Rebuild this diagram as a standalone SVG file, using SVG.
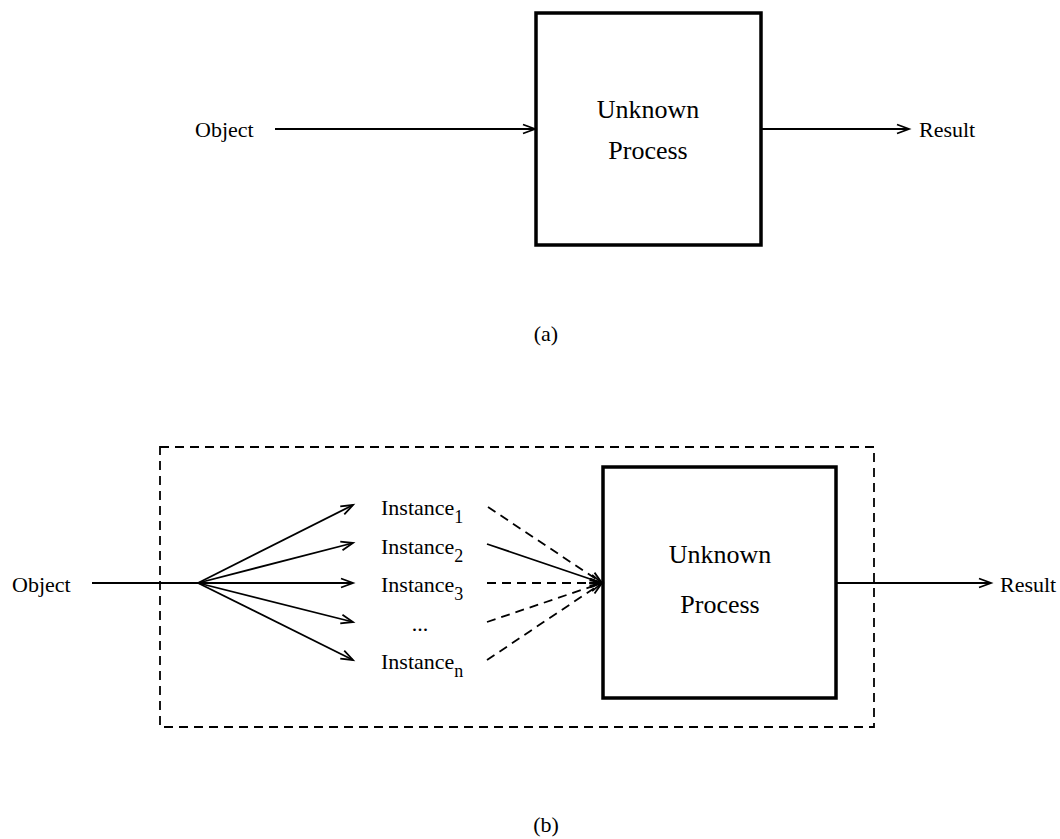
<svg xmlns="http://www.w3.org/2000/svg" width="1060" height="839" viewBox="0 0 1060 839">
<style>
.lbl{font-family:"Liberation Serif","Times New Roman",serif;font-size:22px;fill:#000}
.big{font-family:"Liberation Serif","Times New Roman",serif;font-size:26px;fill:#000}
.sub{font-size:18px}
.box{fill:none;stroke:#000;stroke-width:3.5}
.ln{fill:none;stroke:#000;stroke-width:1.8}
.dash{stroke-dasharray:9 6}
</style>
<defs>
<marker id="arr" markerUnits="userSpaceOnUse" markerWidth="16" markerHeight="12" refX="13" refY="5" orient="auto" overflow="visible">
<path d="M1,0.5 L13,5 L1,9.5" fill="none" stroke="#000" stroke-width="1.8"/>
</marker>
</defs>
<rect width="1060" height="839" fill="#fff"/>
<g id="a-object"><text class="lbl" x="195" y="137">Object</text></g>
<g id="a-process"><rect class="box" x="536" y="13" width="225" height="232"/>
<text class="big" x="648" y="118" text-anchor="middle">Unknown</text>
<text class="big" x="648" y="159" text-anchor="middle">Process</text></g>
<g id="a-result"><text class="lbl" x="919" y="137">Result</text></g>
<g id="a-caption"><text class="lbl" x="546" y="341" text-anchor="middle">(a)</text></g>
<g id="b-frame"><rect class="ln dash" x="160" y="447" width="714" height="280"/></g>
<g id="b-object"><text class="lbl" x="12" y="592">Object</text></g>
<g id="b-instances">
<text class="lbl" x="381" y="515">Instance<tspan class="sub" dy="8">1</tspan></text>
<text class="lbl" x="381" y="554">Instance<tspan class="sub" dy="8">2</tspan></text>
<text class="lbl" x="381" y="592">Instance<tspan class="sub" dy="8">3</tspan></text>
<text class="lbl" x="420" y="631" text-anchor="middle">...</text>
<text class="lbl" x="381" y="669">Instance<tspan class="sub" dy="8">n</tspan></text>
</g>
<g id="b-process"><rect class="box" x="603" y="467" width="233" height="231"/>
<text class="big" x="720" y="563" text-anchor="middle">Unknown</text>
<text class="big" x="720" y="613" text-anchor="middle">Process</text></g>
<g id="b-result"><text class="lbl" x="1000" y="592">Result</text></g>
<g id="b-caption"><text class="lbl" x="546" y="832" text-anchor="middle">(b)</text></g>
<g id="connectors">
<line class="ln" x1="275" y1="129" x2="535" y2="129" marker-end="url(#arr)"/>
<line class="ln" x1="761" y1="129" x2="909" y2="129" marker-end="url(#arr)"/>
<line class="ln" x1="92" y1="583" x2="198" y2="583"/>
<line class="ln" x1="198" y1="583" x2="353" y2="505" marker-end="url(#arr)"/>
<line class="ln" x1="198" y1="583" x2="353" y2="543" marker-end="url(#arr)"/>
<line class="ln" x1="198" y1="583" x2="353" y2="583" marker-end="url(#arr)"/>
<line class="ln" x1="198" y1="583" x2="353" y2="622" marker-end="url(#arr)"/>
<line class="ln" x1="198" y1="583" x2="353" y2="660" marker-end="url(#arr)"/>
<line class="ln dash" x1="488" y1="507" x2="602" y2="583" marker-end="url(#arr)"/>
<line class="ln" x1="487" y1="544" x2="602" y2="583" marker-end="url(#arr)"/>
<line class="ln dash" x1="487" y1="583" x2="602" y2="583" marker-end="url(#arr)"/>
<line class="ln dash" x1="487" y1="622" x2="602" y2="583" marker-end="url(#arr)"/>
<line class="ln dash" x1="487" y1="660" x2="602" y2="583" marker-end="url(#arr)"/>
<line class="ln" x1="836" y1="583" x2="991" y2="583" marker-end="url(#arr)"/>
</g>
</svg>
